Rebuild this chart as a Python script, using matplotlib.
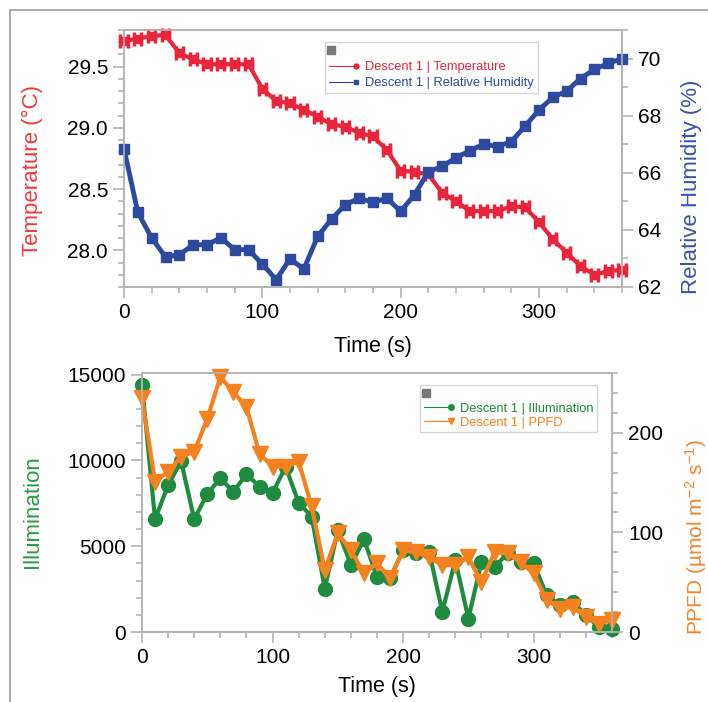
import numpy as np
import matplotlib
matplotlib.use("Agg")
import matplotlib.pyplot as plt
from matplotlib.lines import Line2D
from matplotlib.legend_handler import HandlerLine2D
from matplotlib.ticker import MultipleLocator

plt.rcParams['font.family'] = ['Liberation Sans', 'DejaVu Sans']
plt.rcParams['mathtext.fontset'] = 'custom'
plt.rcParams['mathtext.rm'] = 'Liberation Sans'
plt.rcParams['mathtext.it'] = 'Liberation Sans'

# descent 1 sensor log, one sample every 10 s
time_s = [0, 10, 20, 30, 40, 50, 60, 70, 80, 90, 100, 110, 120, 130, 140, 150, 160, 170, 180,
          190, 200, 210, 220, 230, 240, 250, 260, 270, 280, 290, 300, 310, 320, 330, 340, 350, 360]
temperature = [29.71, 29.73, 29.75, 29.76, 29.61, 29.56, 29.52, 29.52, 29.52, 29.52, 29.32, 29.22,
               29.20, 29.15, 29.09, 29.03, 29.01, 28.96, 28.93, 28.82, 28.65, 28.64, 28.62, 28.47,
               28.40, 28.32, 28.32, 28.32, 28.36, 28.35, 28.23, 28.09, 27.98, 27.87, 27.80, 27.83, 27.84]
humidity = [66.84, 64.61, 63.72, 63.05, 63.13, 63.48, 63.48, 63.72, 63.31, 63.31, 62.80, 62.26,
            62.98, 62.63, 63.77, 64.38, 64.88, 65.11, 64.96, 65.11, 64.65, 65.23, 66.04, 66.22,
            66.53, 66.77, 67.00, 66.92, 67.09, 67.64, 68.20, 68.64, 68.86, 69.30, 69.62, 69.83, 70.00]
illumination = [14400, 6570, 8570, 9950, 6570, 8050, 8960, 8180, 9200, 8480, 8090, 9640, 7540,
                6720, 2530, 5940, 3900, 5400, 3210, 3120, 4770, 4580, 4680, 1170, 4190, 780,
                4090, 3800, 4580, 4090, 4000, 2140, 1560, 1750, 980, 290, 200]
ppfd = [235, 151, 161, 176, 181, 214, 256, 241, 226, 179, 166, 166, 171, 126, 62, 99, 82, 59,
        69, 54, 82, 80, 75, 67, 67, 75, 50, 80, 79, 70, 59, 32, 23.5, 25, 15, 8.4, 11.8]

RED = '#e8253a'
BLUE = '#2d4a9e'
GREEN = '#1e8b3f'
ORANGE = '#f5821f'
GRAY = '#b4b4b4'


class EndMarker(HandlerLine2D):
    # legend handle with the marker at a chosen spot along the line
    def __init__(self, frac=0.95, **kw):
        super().__init__(**kw)
        self.frac = frac

    def create_artists(self, legend, orig_handle, xdescent, ydescent, width, height, fontsize, trans):
        arts = super().create_artists(legend, orig_handle, xdescent, ydescent, width, height, fontsize, trans)
        line = arts[0]
        xd = line.get_xdata()
        x0, x1 = xd[0], xd[-1]
        line.set_xdata([x0, x0 + self.frac * (x1 - x0), x1])
        return arts


def style_axes(ax):
    for s in ax.spines.values():
        s.set_color(GRAY)
        s.set_linewidth(1.2)
    ax.tick_params(which='both', direction='out', color=GRAY, labelsize=15, width=1.2)
    ax.tick_params(which='major', length=8)
    ax.tick_params(which='minor', length=4)


fig = plt.figure(figsize=(7.08, 7.02), dpi=100)

# outer frame
fig.add_artist(Line2D([10 / 708, 10 / 708], [0, 1 - 10 / 702], color='#999999', lw=1.2))
fig.add_artist(Line2D([10 / 708, 1], [1 - 10 / 702, 1 - 10 / 702], color='#999999', lw=1.2))

# --- temperature / humidity ---
ax1 = fig.add_axes([124 / 708, 1 - 287 / 702, 498 / 708, 257 / 702])
ax1b = ax1.twinx()
ax1.errorbar(time_s, temperature, xerr=2.6, fmt='-s', color=RED, ms=6, lw=3,
             elinewidth=2.5, capsize=5, capthick=2.5, clip_on=False, zorder=3)
ax1b.plot(time_s, humidity, '-s', color=BLUE, ms=6.5, lw=3.5, clip_on=False)

ax1.set_xlim(0, 360)
ax1.set_ylim(27.7, 29.8)
ax1b.set_ylim(62, 71)
ax1.xaxis.set_major_locator(MultipleLocator(100))
ax1.xaxis.set_minor_locator(MultipleLocator(20))
ax1.yaxis.set_major_locator(MultipleLocator(0.5))
ax1.yaxis.set_minor_locator(MultipleLocator(0.1))
ax1.yaxis.set_major_formatter(lambda v, p: f'{v:.1f}')
ax1b.yaxis.set_major_locator(MultipleLocator(2))
ax1b.yaxis.set_minor_locator(MultipleLocator(1))
for a in (ax1, ax1b):
    style_axes(a)

ax1.set_xlabel('Time (s)', fontsize=15.5)
ax1.xaxis.set_label_coords(0.5, -0.19)
ax1.set_ylabel('Temperature (°C)', fontsize=16, color='#ee3a40')
ax1.yaxis.set_label_coords(-0.163, 0.455)
ax1b.set_ylabel('Relative Humidity (%)', fontsize=16, color='#3a52a6')
ax1b.yaxis.set_label_coords(1.118, 0.39)

h_icon = Line2D([], [], marker='s', ms=6, color='#777777', ls='none')
h_temp = Line2D([], [], marker='o', ms=3.5, color=RED, lw=0.8)
h_rh = Line2D([], [], marker='s', ms=3.5, color=BLUE, lw=0.8)
leg1 = ax1b.legend([h_icon, h_temp, h_rh], ['', 'Descent 1 | Temperature', 'Descent 1 | Relative Humidity'],
                   handler_map={h_icon: EndMarker(0.08), h_temp: EndMarker(), h_rh: EndMarker()},
                   loc='upper left', bbox_to_anchor=(0.404, 0.955), fontsize=9.3, frameon=True,
                   fancybox=False, edgecolor='#cccccc', handlelength=2.2, handletextpad=0.6,
                   borderpad=0.3, labelspacing=0.3, borderaxespad=0)
for txt, c in zip(leg1.get_texts(), ['k', RED, BLUE]):
    txt.set_color(c)

# --- illumination / PPFD ---
ax2 = fig.add_axes([142 / 708, 1 - 632 / 702, 470 / 708, 259 / 702])
ax2b = ax2.twinx()
ax2.plot(time_s, illumination, '-o', color=GREEN, ms=10, lw=3, clip_on=False)
ax2b.plot(time_s, ppfd, '-v', color=ORANGE, ms=11, lw=3, clip_on=False)

ax2.set_xlim(0, 360)
ax2.set_ylim(0, 15100)
ax2b.set_ylim(0, 260)
ax2.xaxis.set_major_locator(MultipleLocator(100))
ax2.xaxis.set_minor_locator(MultipleLocator(20))
ax2.yaxis.set_major_locator(MultipleLocator(5000))
ax2.yaxis.set_minor_locator(MultipleLocator(1000))
ax2b.yaxis.set_major_locator(MultipleLocator(100))
ax2b.yaxis.set_minor_locator(MultipleLocator(20))
for a in (ax2, ax2b):
    style_axes(a)

ax2.set_xlabel('Time (s)', fontsize=15.5)
ax2.xaxis.set_label_coords(0.5, -0.17)
ax2.set_ylabel('Illumination', fontsize=16, color='#2e9b4a')
ax2.yaxis.set_label_coords(-0.21, 0.463)
ax2b.set_ylabel(r'PPFD (µmol m$^{-2}$ s$^{-1}$)', fontsize=15, color='#f5862a')
ax2b.yaxis.set_label_coords(1.151, 0.367)

h_icon2 = Line2D([], [], marker='s', ms=6, color='#777777', ls='none')
h_ill = Line2D([], [], marker='o', ms=4, color=GREEN, lw=0.8)
h_ppfd = Line2D([], [], marker='v', ms=4, color=ORANGE, lw=0.8)
leg2 = ax2b.legend([h_icon2, h_ill, h_ppfd], ['', 'Descent 1 | Illumination', 'Descent 1 | PPFD'],
                   handler_map={h_icon2: EndMarker(0.08), h_ill: EndMarker(), h_ppfd: EndMarker()},
                   loc='upper left', bbox_to_anchor=(0.591, 0.955), fontsize=9.3, frameon=True,
                   fancybox=False, edgecolor='#cccccc', handlelength=2.2, handletextpad=0.6,
                   borderpad=0.3, labelspacing=0.15, borderaxespad=0)
for txt, c in zip(leg2.get_texts(), ['k', GREEN, ORANGE]):
    txt.set_color(c)

fig.savefig('out.png', dpi=100)
